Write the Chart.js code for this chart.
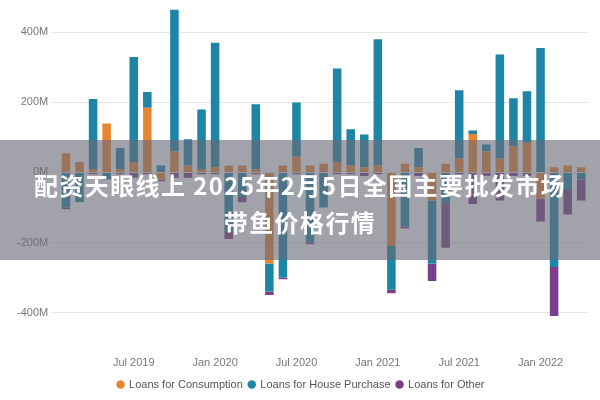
<!DOCTYPE html>
<html>
<head>
<meta charset="utf-8">
<script src="https://cdn.jsdelivr.net/npm/chart.js@4/dist/chart.umd.min.js"></script>
<style>
  body { margin: 0; width: 600px; height: 400px; background: #fff; font-family: "Noto Sans CJK SC", "Noto Sans", sans-serif; }
  #wrap { position: relative; width: 600px; height: 400px; }
  #band { position: absolute; left: 0; top: 140px; width: 600px; height: 120px; background: rgba(105,105,118,0.62);
    color: #fff; font-weight: bold; font-size: 24px; letter-spacing: 1.4px; text-align: center; line-height: 37px; padding-top: 26px; box-sizing: border-box; }
</style>
</head>
<body>
<div id="wrap">
  <canvas id="chart" width="600" height="400"></canvas>
  <div id="band">配资天眼线上 2025年2月5日全国主要批发市场<br>带鱼价格行情</div>
</div>
<script>
const months = ["Feb 2019","Mar 2019","Apr 2019","May 2019","Jun 2019","Jul 2019","Aug 2019","Sep 2019","Oct 2019","Nov 2019","Dec 2019",
  "Jan 2020","Feb 2020","Mar 2020","Apr 2020","May 2020","Jun 2020","Jul 2020","Aug 2020","Sep 2020","Oct 2020","Nov 2020","Dec 2020",
  "Jan 2021","Feb 2021","Mar 2021","Apr 2021","May 2021","Jun 2021","Jul 2021","Aug 2021","Sep 2021","Oct 2021","Nov 2021","Dec 2021",
  "Jan 2022","Feb 2022","Mar 2022","Apr 2022"];
const consumption = [55,30,10,140,10,30,185,-20,60,20,10, 15,20,20,10,-260,20,45,20,25,30,20,15, 20,-210,25,15,-80,25,40,110,60,40,75,85, -75,15,20,15];
const housePurchase = [-100,-85,200,-20,60,300,45,20,405,75,170, 355,-170,-70,185,-80,-300,155,-200,-100,267,103,93, 360,-125,-155,55,-180,-90,195,10,20,297,137,147, 355,-270,-50,-20];
const other = [-5,0,-5,0,-5,-15,-5,-5,-15,-15,-5, -5,-20,-15,-5,-10,-5,-5,-5,0,-5,-5,-10, -5,-10,-5,-10,-50,-125,-5,-90,-10,-80,-10,-10, -65,-140,-70,-60];
const tickMonths = ["Jul 2019","Jan 2020","Jul 2020","Jan 2021","Jul 2021","Jan 2022"];
const yTicks = [-400,-200,0,200,400];

new Chart(document.getElementById("chart"), {
  type: "bar",
  data: {
    labels: months,
    datasets: [
      { label: "Loans for Consumption", data: consumption, backgroundColor: "#e8862f" },
      { label: "Loans for House Purchase", data: housePurchase, backgroundColor: "#1d86a6" },
      { label: "Loans for Other", data: other, backgroundColor: "#7a3f88" },
    ],
  },
  options: {
    responsive: false,
    animation: false,
    layout: { padding: { left: 14, right: 12, top: 0 } },
    datasets: { bar: { categoryPercentage: 0.9, barPercentage: 0.7 } },
    plugins: {
      legend: {
        position: "bottom",
        labels: { usePointStyle: true, pointStyle: "circle", boxWidth: 6, boxHeight: 6, color: "#555", font: { size: 11 }, padding: 6 },
      },
      tooltip: { enabled: false },
    },
    scales: {
      x: {
        stacked: true,
        grid: { display: false },
        border: { display: false },
        ticks: {
          autoSkip: false, maxRotation: 0, color: "#777", font: { size: 11 },
          callback: (v, i) => tickMonths.includes(months[i]) ? months[i] : "",
        },
      },
      y: {
        stacked: true,
        min: -495, max: 465,
        afterBuildTicks: (ax) => { ax.ticks = yTicks.map((v) => ({ value: v })); },
        grid: { color: "#e6e6e6" },
        border: { display: false },
        ticks: { color: "#777", font: { size: 11 }, callback: (v) => v + "M" },
      },
    },
  },
});
</script>
</body>
</html>
